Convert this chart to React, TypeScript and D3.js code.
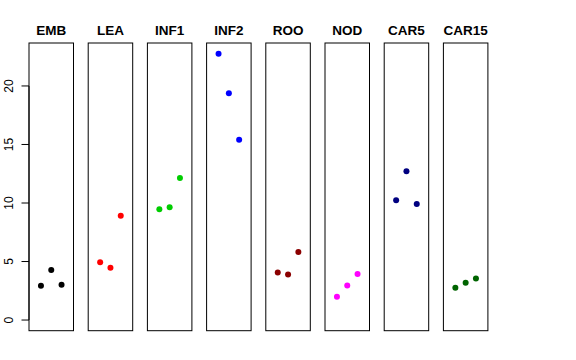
import React from "react";
import * as d3 from "d3";

const categories = ["EMB", "LEA", "INF1", "INF2", "ROO", "NOD", "CAR5", "CAR15"];
const colors = ["#000000", "#FF0000", "#00CD00", "#0000FF", "#8B0000", "#FF00FF", "#000080", "#006400"];
const EMB = [2.93, 4.27, 3.02];
const LEA = [4.93, 4.47, 8.91];
const INF1 = [9.46, 9.63, 12.14];
const INF2 = [22.76, 19.37, 15.41];
const ROO = [4.07, 3.9, 5.81];
const NOD = [1.99, 2.96, 3.93];
const CAR5 = [10.23, 12.71, 9.91];
const CAR15 = [2.76, 3.19, 3.56];
const seriesValues = [EMB, LEA, INF1, INF2, ROO, NOD, CAR5, CAR15];
const yTicks = [0, 5, 10, 15, 20];
const replicates = [1, 2, 3];

const W = 576;
const H = 360;
const panelLeft = 29;
const panelWidth = 44.5;
const panelStep = 59.2;
const top = 43;
const bottom = 330.7;

export default function App() {
  const ymax = d3.max(seriesValues.flat()) as number;
  const ext = ymax * 0.04;
  const y = d3.scaleLinear().domain([-ext, ymax + ext]).range([bottom, top]);
  const font = "'Liberation Sans', Arial, Helvetica, sans-serif";
  return (
    <svg width={W} height={H} style={{ position: "absolute", left: 0, top: 0, background: "#fff" }}>
      {categories.map((cat, i) => {
        const x0 = panelLeft + i * panelStep;
        const x = d3.scaleLinear().domain([-0.16, 4.16]).range([x0, x0 + panelWidth]);
        return (
          <g key={cat}>
            <rect x={x0} y={top} width={panelWidth} height={bottom - top} fill="none" stroke="#000" strokeWidth={1} />
            <text x={x0 + panelWidth / 2} y={34.5} textAnchor="middle" fontFamily={font} fontWeight="bold" fontSize={13.5}>
              {cat}
            </text>
            {seriesValues[i].map((v, j) => (
              <circle key={j} cx={x(replicates[j])} cy={y(v)} r={3} fill={colors[i]} />
            ))}
          </g>
        );
      })}
      <line x1={panelLeft} x2={panelLeft} y1={y(0)} y2={y(20)} stroke="#000" />
      {yTicks.map((t) => (
        <g key={t}>
          <line x1={panelLeft - 7.5} x2={panelLeft} y1={y(t)} y2={y(t)} stroke="#000" />
          <text
            transform={`translate(12.5,${y(t)}) rotate(-90)`}
            textAnchor="middle"
            fontFamily={font}
            fontSize={12}
          >
            {t}
          </text>
        </g>
      ))}
    </svg>
  );
}
